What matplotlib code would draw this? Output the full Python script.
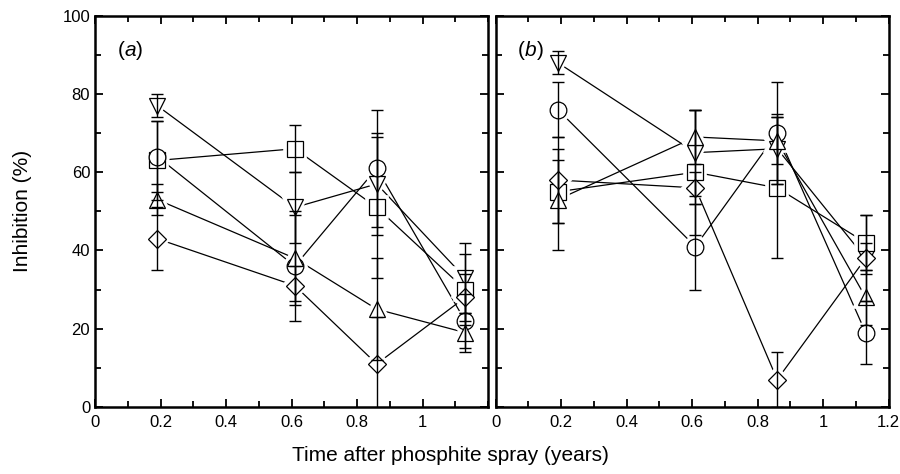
import numpy as np
import matplotlib
matplotlib.use("Agg")
import matplotlib.pyplot as plt
from matplotlib.ticker import MultipleLocator

plt.rcParams['font.family'] = ['Liberation Sans Narrow', 'Liberation Sans', 'DejaVu Sans']

# sampling times (years after spray)
t = [0.19, 0.61, 0.86, 1.13]

# panel (a)
a_dtri = [77, 51, 57, 33]
a_dtri_err = [3, 9, 13, 9]
a_sq = [63, 66, 51, 30]
a_sq_err = [10, 6, 18, 9]
a_circ = [64, 36, 61, 22]
a_circ_err = [9, 14, 15, 7]
a_utri = [53, 38, 25, 19]
a_utri_err = [4, 11, 13, 5]
a_dia = [43, 31, 11, 28]
a_dia_err = [8, 5, 12, 6]

# panel (b)
b_dtri = [88, 65, 66, 38]
b_dtri_err = [3, 11, 9, 11]
b_sq = [55, 60, 56, 42]
b_sq_err = [8, 16, 18, 7]
b_circ = [76, 41, 70, 19]
b_circ_err = [7, 11, 13, 8]
b_utri = [53, 69, 68, 28]
b_utri_err = [13, 7, 6, 7]
b_dia = [58, 56, 7, 38]
b_dia_err = [11, 4, 7, 4]

markers = ['v', 's', 'o', '^', 'D']
msizes = [12, 11.5, 12, 12, 9]


def draw_panel(ax, series, errs, tag):
    for vals, err, m, ms in zip(series, errs, markers, msizes):
        ax.plot(t, vals, '-', color='black', lw=0.9, zorder=1)
        # white halo -> small gap between lines and symbols
        ax.plot(t, vals, ls='none', marker=m, ms=ms, mfc='white', mec='white',
                mew=5.5, zorder=2)
        ax.plot(t, vals, ls='none', marker=m, ms=ms, mfc='white', mec='black',
                mew=0.9, zorder=3)
        ax.errorbar(t, vals, yerr=err, fmt='none', ecolor='black', elinewidth=1.0,
                    capsize=4.5, capthick=1.0, zorder=4)
    ax.set_xlim(0, 1.2)
    ax.set_ylim(0, 100)
    ax.xaxis.set_major_locator(MultipleLocator(0.2))
    ax.xaxis.set_minor_locator(MultipleLocator(0.1))
    ax.yaxis.set_major_locator(MultipleLocator(20))
    ax.yaxis.set_minor_locator(MultipleLocator(10))
    ax.tick_params(which='both', direction='in', top=True, right=True,
                   width=1.3, labelsize=12)
    ax.tick_params(which='major', length=6)
    ax.tick_params(which='minor', length=4)
    ax.tick_params(axis='x', which='both', pad=6)
    for s in ax.spines.values():
        s.set_linewidth(1.8)
    ax.text(0.09, 91, '(', fontsize=15, ha='right', va='center')
    ax.text(0.09, 91, tag, fontsize=15, style='italic', ha='left', va='center')
    ax.text(0.09 + (0.035 if tag == 'a' else 0.037), 91, ')', fontsize=15,
            ha='left', va='center')


fig = plt.figure(figsize=(9, 4.74), dpi=100)
ax1 = fig.add_axes([0.1056, 0.1414, 0.4367, 0.8255])
ax2 = fig.add_axes([0.5506, 0.1414, 0.4367, 0.8255])

draw_panel(ax1, [a_dtri, a_sq, a_circ, a_utri, a_dia],
           [a_dtri_err, a_sq_err, a_circ_err, a_utri_err, a_dia_err], 'a')
draw_panel(ax2, [b_dtri, b_sq, b_circ, b_utri, b_dia],
           [b_dtri_err, b_sq_err, b_circ_err, b_utri_err, b_dia_err], 'b')

ax1.set_xticks([0, 0.2, 0.4, 0.6, 0.8, 1.0])
ax1.set_xticklabels(['0', '0.2', '0.4', '0.6', '0.8', '1'])
ax2.set_xticks([0, 0.2, 0.4, 0.6, 0.8, 1.0, 1.2])
ax2.set_xticklabels(['0', '0.2', '0.4', '0.6', '0.8', '1', '1.2'])
ax1.set_yticks([0, 20, 40, 60, 80, 100])
ax2.set_yticklabels([])

ax1.set_ylabel('Inhibition (%)', fontsize=15, labelpad=22)
fig.text(0.5, 0.02, 'Time after phosphite spray (years)', fontsize=15,
         ha='center', va='bottom')

fig.savefig('out.png', dpi=100)
